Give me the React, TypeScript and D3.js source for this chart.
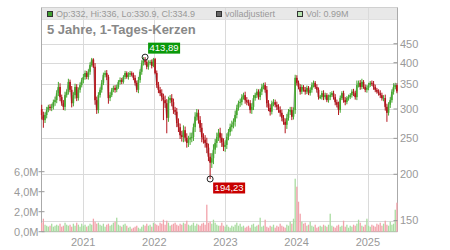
import React from "react";
import * as d3 from "d3";

// ---------- data ----------
const firstDate = new Date(2020, 5, 2);
const lastDate = new Date(2025, 4, 30);
const firstOpen = 300;
const closes = [
  289, 280, 289, 298, 304, 302, 304, 313, 317, 331,
  344, 323, 311, 304, 327, 334, 355, 338, 311, 327,
  344, 321, 338, 348, 359, 366, 375, 366, 378, 394,
  408, 390, 317, 298, 327, 338, 353, 371, 375, 366,
  321, 327, 338, 342, 338, 344, 355, 359, 355, 366,
  375, 366, 371, 375, 371, 364, 353, 338, 359, 378,
  399, 406, 402, 390, 399, 402, 392, 409, 375, 348,
  338, 331, 323, 317, 311, 284, 317, 321, 313, 298,
  295, 275, 268, 255, 252, 263, 251, 243, 248, 251,
  252, 268, 286, 293, 280, 267, 252, 248, 243, 236,
  223, 215, 221, 233, 243, 252, 259, 251, 244, 237,
  240, 252, 260, 268, 272, 277, 289, 302, 311, 313,
  323, 327, 317, 313, 311, 298, 304, 321, 327, 334,
  323, 334, 344, 348, 338, 311, 302, 295, 311, 313,
  308, 304, 298, 293, 284, 277, 272, 284, 295, 298,
  286, 298, 364, 353, 344, 334, 344, 338, 334, 342,
  331, 338, 348, 353, 344, 338, 323, 323, 331, 323,
  327, 317, 323, 327, 331, 323, 313, 308, 298, 321,
  331, 317, 313, 321, 323, 327, 334, 331, 323, 348,
  353, 344, 355, 344, 338, 342, 348, 353, 351, 344,
  338, 334, 331, 327, 321, 321, 304, 293, 308, 317,
  334, 344, 348, 334.9,
];
// typical wick length beyond the body (price units)
const wicks = [
  8, 6, 5, 6, 4, 5, 6, 5, 7, 6,
  6, 8, 5, 6, 7, 5, 6, 5, 8, 6,
  7, 6, 5, 6, 5, 7, 6, 5, 6, 7,
  4, 3, 9, 7, 6, 5, 6, 5, 6, 7,
  5, 6, 4, 5, 6, 5, 4, 6, 5, 4,
  5, 4, 6, 5, 4, 5, 6, 5, 7, 6,
  7, 6, 8, 6, 7, 5, 6, 3, 3, 6,
  7, 6, 8, 7, 9, 8, 7, 6, 8, 7,
  6, 7, 8, 6, 7, 8, 6, 7, 6, 8,
  7, 6, 8, 7, 6, 7, 8, 6, 7, 8,
  6, 5, 7, 8, 6, 7, 6, 8, 7, 6,
  7, 6, 5, 6, 7, 6, 8, 6, 5, 7,
  6, 5, 7, 6, 5, 6, 7, 6, 5, 6,
  5, 6, 7, 5, 6, 8, 6, 7, 5, 6,
  5, 6, 5, 7, 6, 5, 6, 7, 5, 6,
  6, 5, 7, 6, 5, 6, 5, 4, 6, 5,
  4, 5, 6, 5, 4, 6, 5, 4, 5, 6,
  5, 4, 5, 6, 4, 5, 6, 5, 6, 5,
  4, 5, 6, 4, 5, 4, 5, 6, 5, 6,
  5, 6, 5, 4, 5, 6, 5, 4, 5, 6,
  5, 4, 5, 6, 5, 6, 7, 6, 5, 6,
  5, 6, 5, 4,
];
// notable long wicks: [candle index, price]
const wickHighs: [number, number][] = [
  [10, 355], [16, 362], [30, 412], [61, 413.89], [132, 350], [152, 366], [189, 358], [192, 362], [211, 352],
];
const wickLows: [number, number][] = [
  [1, 267], [18, 305], [33, 294], [40, 310], [73, 280], [75, 258], [101, 194.23], [146, 258], [178, 289], [207, 277],
];
// volume in millions
const volumes = [
  0.9, 1.3, 0.7, 0.6, 0.5, 0.6, 0.8, 0.5, 0.6, 0.7,
  0.6, 0.8, 0.5, 0.6, 0.9, 0.7, 0.6, 0.7, 0.5, 0.8,
  0.6, 0.9, 0.7, 0.5, 0.8, 0.6, 0.7, 0.5, 0.6, 0.8,
  0.7, 1.3, 1.0, 0.8, 0.9, 0.7, 0.6, 0.8, 0.5, 0.7,
  0.8, 0.6, 0.7, 0.9, 1.0, 1.4, 0.7, 0.6, 0.5, 0.7,
  0.8, 0.6, 0.4, 0.5, 0.3, 0.4, 0.5, 0.6, 0.4, 0.3,
  0.5, 0.7, 0.6, 0.8, 0.6, 0.7, 0.5, 0.9, 0.8, 0.7,
  0.6, 0.9, 0.8, 1.2, 0.7, 1.1, 0.9, 0.6, 0.7, 0.8,
  0.9, 0.7, 0.6, 0.8, 0.7, 0.9, 0.8, 1.1, 0.7, 0.6,
  0.7, 0.9, 0.6, 0.8, 0.7, 0.6, 0.8, 0.9, 0.7, 2.7,
  0.9, 1.0, 0.8, 1.2, 0.9, 0.7, 0.6, 0.6, 0.9, 0.6,
  0.5, 0.7, 0.5, 0.4, 0.6, 0.5, 0.7, 0.9, 0.6, 0.8,
  0.5, 0.6, 0.4, 0.5, 0.6, 0.4, 0.7, 0.8, 0.5, 0.6,
  0.7, 1.4, 0.5, 0.6, 1.2, 0.5, 0.4, 0.6, 0.5, 0.7,
  0.4, 0.6, 0.5, 0.8, 0.6, 0.5, 0.4, 0.7, 0.6, 1.0,
  0.8, 1.3, 5.3, 4.5, 3.0, 1.8, 1.0, 0.8, 0.9, 0.6,
  0.7, 1.0, 0.6, 0.5, 0.7, 0.4, 0.5, 0.6, 0.5, 0.7,
  0.6, 0.5, 0.7, 1.8, 0.6, 0.5, 0.4, 0.6, 0.7, 0.5,
  0.6, 1.1, 0.5, 0.7, 0.4, 0.6, 0.5, 0.7, 0.6, 0.8,
  1.2, 0.9, 0.6, 0.5, 0.7, 1.3, 0.6, 0.5, 0.7, 0.6,
  0.5, 0.8, 0.7, 0.9, 0.6, 0.8, 1.1, 0.7, 0.6, 1.0,
  0.7, 0.8, 2.2, 2.9,
];
const priceTicks = [150, 200, 250, 300, 350, 400, 450];
const volumeTicks = [0, 2, 4, 6];
const yearTicks = [2021, 2022, 2023, 2024, 2025];
const title = "5 Jahre, 1-Tages-Kerzen";
const legendOHLC = "Op:332, Hi:336, Lo:330.9, Cl:334.9";
const legendAdjusted = "volladjustiert";
const legendVolume = "Vol: 0.99M";
const maxLabel = "413,89";
const minLabel = "194,23";

// ---------- layout ----------
const W = 450, H = 250;
const L = 41.5, R = 397.5, T = 7.5, B = 231.7;
const FONT = "'Liberation Sans', Arial, Helvetica, sans-serif";
const GREEN = "#45a82f";
const RED = "#b3141b";

export default function App() {
  const n = closes.length;
  const dateAt = (i: number) =>
    new Date(firstDate.getTime() + (i / (n - 1)) * (lastDate.getTime() - firstDate.getTime()));
  const x = d3.scaleTime().domain([new Date(2020, 5, 1), new Date(2025, 5, 2)]).range([L, R]);
  const y = d3.scaleLog().domain([140, 452]).range([B, 43]);
  const yv = d3.scaleLinear().domain([0, 6]).range([B, B - 60]);

  const hiMap = new Map(wickHighs);
  const loMap = new Map(wickLows);
  const candles = closes.map((c, i) => {
    const o = i === 0 ? firstOpen : closes[i - 1];
    const hi = Math.max(Math.max(o, c) + wicks[i], hiMap.get(i) ?? 0);
    const lo = Math.min(Math.min(o, c) - wicks[i], loMap.get(i) ?? Infinity);
    return { date: dateAt(i), o, c, hi, lo, v: volumes[i], up: c >= o };
  });

  let maxI = 0, minI = 0;
  candles.forEach((d, i) => {
    if (d.hi > candles[maxI].hi) maxI = i;
    if (d.lo < candles[minI].lo) minI = i;
  });
  const maxC = candles[maxI], minC = candles[minI];

  const line = d3.line<typeof candles[0]>().x((d) => x(d.date)).y((d) => y(d.c));
  const bw = 1.6;
  const years = yearTicks.map((yr) => new Date(yr, 0, 1));

  return (
    <svg width={W} height={H} style={{ position: "absolute", left: 0, top: 0, background: "#fff" }} fontFamily={FONT}>
      <rect x={0} y={0} width={W} height={H} fill="#fff" />
      {/* header band */}
      <rect x={L} y={T} width={R - L} height={12} fill="#e8e8e8" />
      {/* horizontal grid */}
      {priceTicks.map((t) => (
        <line key={"hg" + t} x1={L} x2={R} y1={Math.round(y(t)) + 0.5} y2={Math.round(y(t)) + 0.5} stroke="#dadada" />
      ))}
      {/* vertical grid */}
      {years.map((d, i) => (
        <line key={"vg" + i} x1={Math.round(x(d)) + 0.5} x2={Math.round(x(d)) + 0.5} y1={T} y2={B} stroke="#dadada" />
      ))}
      {/* frame */}
      <line x1={L} x2={R} y1={T} y2={T} stroke="#d0d0d0" />
      <line x1={L} x2={R} y1={T + 12} y2={T + 12} stroke="#e0e0e0" />
      <line x1={L} x2={L} y1={T} y2={B} stroke="#aaa" />
      <line x1={R} x2={R} y1={T} y2={B} stroke="#aaa" />
      <line x1={L} x2={R} y1={B} y2={B} stroke="#aaa" />

      {/* legend */}
      <rect x={47.5} y={11.5} width={5} height={5} fill="#3f9f2f" stroke="#333" />
      <text x={56} y={16.8} fontSize={9} fill="#999">{legendOHLC}</text>
      <rect x={216.5} y={11.5} width={5} height={5} fill="#666" stroke="#333" />
      <text x={225} y={16.8} fontSize={9} fill="#999">{legendAdjusted}</text>
      <rect x={297.5} y={11.5} width={5} height={5} fill="#b6e3b0" stroke="#333" />
      <text x={306} y={16.8} fontSize={9} fill="#999">{legendVolume}</text>

      {/* title */}
      <text x={47} y={34} fontSize={13} fontWeight="bold" fill="#888">{title}</text>

      {/* volume */}
      {candles.map((d, i) => (
        <rect key={"v" + i} x={x(d.date) - 0.65} width={1.3} y={yv(d.v)} height={B - yv(d.v)}
          fill={d.up ? "#a9dca0" : "#f2a3ab"} />
      ))}

      {/* adjusted close line */}
      <path d={line(candles) || ""} fill="none" stroke="#aaa" strokeWidth={1} />

      {/* candles */}
      {candles.map((d, i) => {
        const cx = x(d.date);
        const col = d.up ? GREEN : RED;
        const top = y(Math.max(d.o, d.c));
        const bot = y(Math.min(d.o, d.c));
        return (
          <g key={"c" + i}>
            <line x1={cx} x2={cx} y1={y(d.hi)} y2={y(d.lo)} stroke={col} strokeWidth={1} />
            <rect x={cx - bw / 2} width={bw} y={top} height={Math.max(1, bot - top)} fill={col} />
          </g>
        );
      })}

      {/* right price axis */}
      {priceTicks.map((t) => (
        <g key={"pt" + t}>
          <line x1={R - 4} x2={R} y1={y(t)} y2={y(t)} stroke="#999" />
          <text x={400} y={y(t)} dy="0.35em" fontSize={11} fill="#999">{t}</text>
        </g>
      ))}
      {/* left volume axis */}
      {volumeTicks.map((t) => (
        <g key={"vt" + t}>
          <line x1={L - 3} x2={L + 3} y1={yv(t)} y2={yv(t)} stroke="#999" />
          <text x={38.5} y={yv(t)} dy="0.35em" fontSize={11} fill="#999" textAnchor="end">
            {d3.format(".1f")(t).replace(".", ",") + "M"}
          </text>
        </g>
      ))}
      {/* x axis */}
      {years.map((d, i) => (
        <text key={"xt" + i} x={x(d)} y={242} dy="0.35em" fontSize={11} fill="#999" textAnchor="middle">
          {yearTicks[i]}
        </text>
      ))}

      {/* max / min markers */}
      <circle cx={x(maxC.date)} cy={y(maxC.hi)} r={3} fill="none" stroke="#222" strokeWidth={1} />
      <rect x={x(maxC.date) + 3} y={y(maxC.hi) - 14.5} width={32} height={11} fill="#0a990a" />
      <text x={x(maxC.date) + 19} y={y(maxC.hi) - 9} dy="0.35em" fontSize={9.5} fill="#fff" textAnchor="middle">{maxLabel}</text>
      <circle cx={x(minC.date)} cy={y(minC.lo)} r={3} fill="none" stroke="#222" strokeWidth={1} />
      <rect x={x(minC.date) + 3} y={y(minC.lo) + 3.5} width={32} height={11} fill="#c80000" />
      <text x={x(minC.date) + 19} y={y(minC.lo) + 9} dy="0.35em" fontSize={9.5} fill="#fff" textAnchor="middle">{minLabel}</text>
    </svg>
  );
}
